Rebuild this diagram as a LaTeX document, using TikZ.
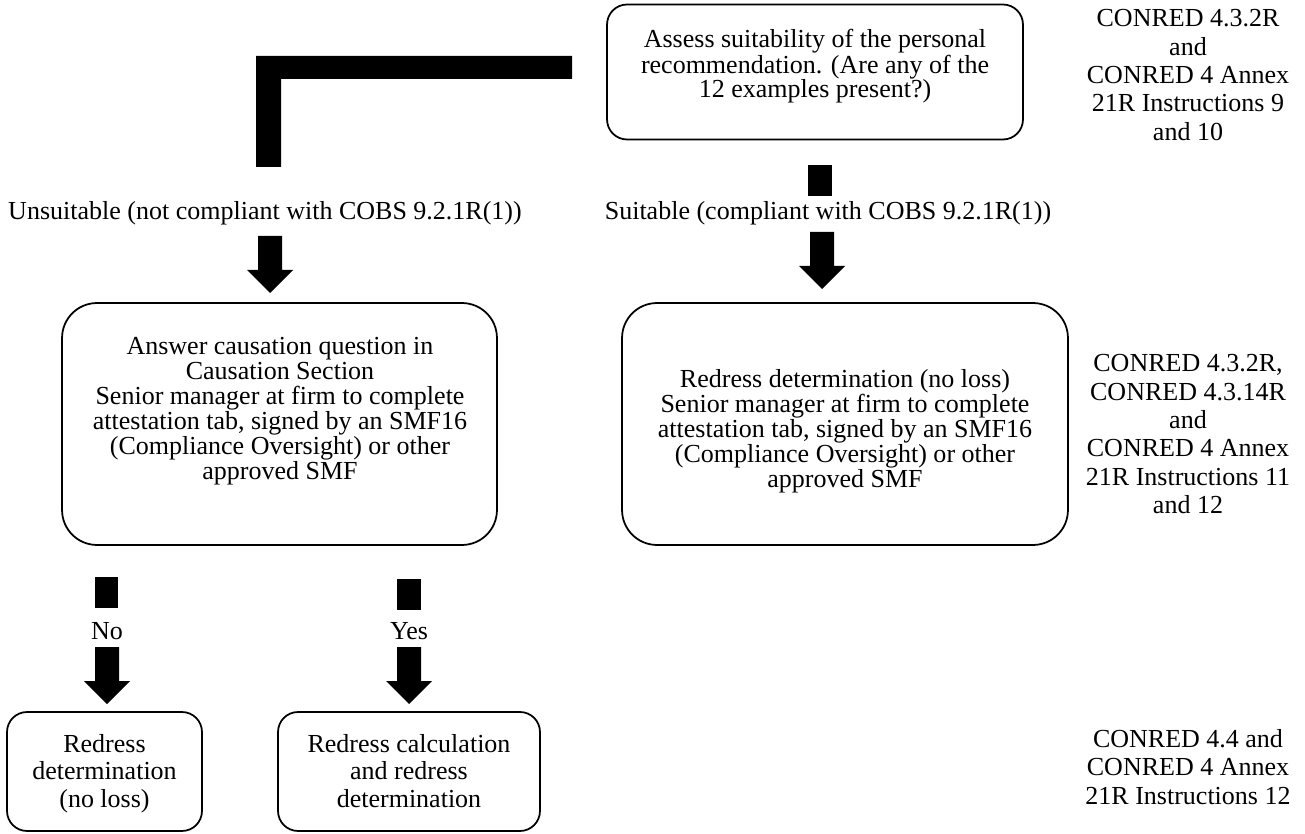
\documentclass[tikz,border=0pt]{standalone}
\usepackage{fontspec}
\setmainfont{Liberation Serif}
\usetikzlibrary{positioning}

\tikzset{
  px/.style={x=0.02cm, y=-0.02cm},
  box/.style={draw, line width=1pt, inner sep=0pt},
  boxtxt/.style={align=center, inner sep=0pt, anchor=north, font=\fontsize{14.8pt}{13.6pt}\selectfont},
  midtxt/.style={boxtxt, font=\fontsize{14.8pt}{14.2pt}\selectfont},
  lowtxt/.style={boxtxt, font=\fontsize{14.8pt}{15.6pt}\selectfont},
  reftxt/.style={boxtxt, font=\fontsize{14.8pt}{16.2pt}\selectfont},
  lbl/.style={inner sep=0pt, anchor=base, font=\fontsize{14.8pt}{16pt}\selectfont},
  blockarrow/.pic={\fill (-12,0) -- (12,0) -- (12,34) -- (23,34) -- (0,57) -- (-23,34) -- (-12,34) -- cycle;}
}

\begin{document}
\begin{tikzpicture}[px]
\useasboundingbox (0,0) rectangle (1305,834);

% boxes
\node[box, rounded corners=0.4cm, minimum width=8.32cm, minimum height=2.7cm] (assess) at (815,72) {};
\node[box, rounded corners=0.7cm, minimum width=8.7cm, minimum height=4.84cm] (causation) at (279.5,424) {};
\node[box, rounded corners=0.7cm, minimum width=8.92cm, minimum height=4.84cm] (noloss) at (845,424) {};
\node[box, rounded corners=0.4cm, minimum width=3.9cm, minimum height=2.38cm] (redressa) at (104.5,771.5) {};
\node[box, rounded corners=0.4cm, minimum width=5.24cm, minimum height=2.38cm] (redressb) at (409,771.5) {};

% box texts
\node[boxtxt] (assesstext) at (815,29) {Assess suitability of the personal\\recommendation. (Are any of the\\12 examples present?)};
\node[midtxt] (causationtext) at (280,337) {Answer causation question in\\Causation Section\\Senior manager at firm to complete\\attestation tab, signed by an SMF16\\(Compliance Oversight) or other\\approved SMF};
\node[midtxt] (nolosstext) at (845,369) {Redress determination (no loss)\\Senior manager at firm to complete\\attestation tab, signed by an SMF16\\(Compliance Oversight) or other\\approved SMF};
\node[lowtxt] (redressatext) at (104.5,734) {Redress\\determination\\(no loss)};
\node[lowtxt] (redressbtext) at (409,734) {Redress calculation\\and redress\\determination};

% references
\node[reftxt] (reftop) at (1188,9) {CONRED 4.3.2R\\and\\CONRED 4 Annex\\21R Instructions 9\\and 10};
\node[reftxt] (refmid) at (1188,354) {CONRED 4.3.2R,\\CONRED 4.3.14R\\and\\CONRED 4 Annex\\21R Instructions 11\\and 12};
\node[reftxt] (refbot) at (1188,729) {CONRED 4.4 and\\CONRED 4 Annex\\21R Instructions 12};

% labels
\node[lbl] (unsuit) at (265,220) {Unsuitable (not compliant with COBS 9.2.1R(1))};
\node[lbl] (suit) at (828,220) {Suitable (compliant with COBS 9.2.1R(1))};
\node[lbl] (no) at (107,639) {No};
\node[lbl] (yes) at (409,639) {Yes};

% bars
\fill (256,56) -- (572,56) -- (572,79) -- (281,79) -- (281,167) -- (256,167) -- cycle;
\fill (808,165) rectangle (832,196);
\fill (95,577) rectangle (118,608);
\fill (397,579) rectangle (421,610);

% arrows
\pic at (270,236) {blockarrow};
\pic at (822,232) {blockarrow};
\pic at (107,647) {blockarrow};
\pic at (409,647) {blockarrow};
\end{tikzpicture}
\end{document}
